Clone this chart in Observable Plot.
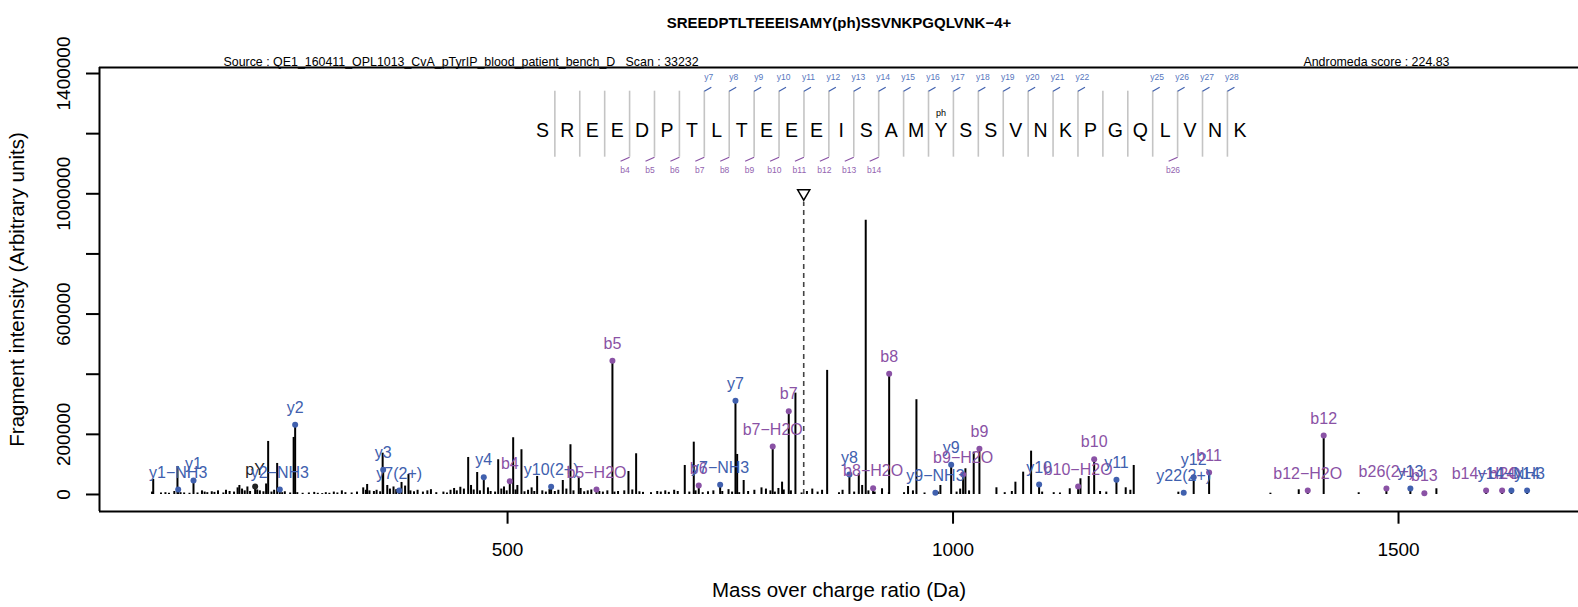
<!DOCTYPE html>
<html><head><meta charset="utf-8">
<script src="https://cdn.jsdelivr.net/npm/d3@7"></script>
<script src="https://cdn.jsdelivr.net/npm/@observablehq/plot@0.6"></script>
<style>body{margin:0;background:#fff;overflow:hidden;} svg{display:block;font-family:"Liberation Sans",Arial,Helvetica,sans-serif;}</style>
</head><body><div id="chart"></div>
<script>
// ---------- data ----------
const title = "SREEDPTLTEEEISAMY(ph)SSVNKPGQLVNK\u22124+";
const sourceText = "Source : QE1_160411_OPL1013_CvA_pTyrIP_blood_patient_bench_D\u00a0\u00a0\u00a0Scan : 33232";
const scoreText = "Andromeda score : 224.83";
const xTitle = "Mass over charge ratio (Da)";
const yTitle = "Fragment intensity (Arbitrary units)";
const sequence = "SREEDPTLTEEEISAMYSSVNKPGQLVNK".split("");
const ySites = [7,8,9,10,11,12,13,14,15,16,17,18,19,20,21,22,25,26,27,28];
const bSites = [4,5,6,7,8,9,10,11,12,13,14,26];
const phSite = 17;
const xTicks = [500, 1000, 1500];
const yTicks = [0, 200000, 400000, 600000, 800000, 1000000, 1200000, 1400000];
const yTickLabels = [0, 200000, 600000, 1000000, 1400000];

const ionLabels = ["y1\u2212NH3","y1","pY","y2\u2212NH3","y2","y3","y7(2+)","y4","b4","y10(2+)","b5\u2212H2O","b5","b6","y7\u2212NH3","y7","b7\u2212H2O","b7","y8","b8\u2212H2O","b8","y9\u2212NH3","y9","b9\u2212H2O","b9","y10","b10\u2212H2O","b10","y11","y22(2+)","y12","b11","b12\u2212H2O","b12","b26(2+)","y13","b13","b14\u2212H2O","b14","y14\u2212NH3","y14"];
const ionType = ["y","y","i","y","y","y","y","y","b","y","b","b","b","y","y","b","b","y","b","b","y","y","b","b","y","b","b","y","y","y","b","b","b","b","y","b","b","b","y","y"];
const ionMz = [130.3,147.5,216.7,244.4,261.6,360.4,378.4,473.3,502.5,548.9,599.8,617.7,714.6,738.6,755.8,797.6,815.6,883.7,910.3,928.3,980.2,997.9,1011.3,1029.6,1096.6,1140.4,1158.4,1183.4,1258.9,1270.1,1287.4,1398.1,1416.0,1486.4,1513.3,1529.0,1598.3,1616.3,1626.7,1644.3];
const ionIntensity = [16600,46600,26600,16600,232000,82200,13300,57600,44300,25600,16600,445000,30000,32300,311800,159700,277200,66600,21000,401700,5700,98800,66600,152100,33300,26600,117500,48900,5700,57600,73200,13300,196400,20000,20000,4300,13300,13300,13300,13300];

const peakMz = [102.3,129.5,231.3,241.4,259.9,342.4,359.8,388.8,455.8,465.9,489.5,506.3,515.6,533.2,562.0,570.6,579.9,635.7,644.3,698.9,709.0,757.7,765.0,808.1,823.1,858.7,894.2,902.0,920.3,949.5,958.9,985.8,1013.9,1023.2,1048.7,1070.0,1078.7,1087.6,1131.0,1143.0,1152.3,1193.8,1202.8,1252.9,1356.2,1388.0,1455.3,1542.5];
const peakIntensity = [49900,93200,176400,103200,189700,33300,137400,66600,123100,73200,115500,188700,148800,60000,46600,165400,57600,76500,135400,96500,174000,133100,46600,41000,337100,412700,68900,911900,19000,26600,315200,30000,85500,140800,22300,40900,74200,144100,19000,52200,59900,22300,96500,7700,4300,15600,5700,19000];

const noiseMz = [101,111,116,120,126,133,137,143,152,157,160,163,168,171,175,181,184,188,193,197,199,202,205,208,211,219,222,226,229,235,238,247,250,256,264,270,277,283,287,292,296,300,305,309,314,318,325,331,338,341,345,350,353,357,365,368,372,375,381,385,391,395,399,405,410,414,420,428,432,436,440,443,447,451,459,462,469,478,481,486,493,496,499,509,511,519,523,527,530,539,543,547,553,557,566,574,582,586,590,594,603,607,612,620,624,631,640,648,652,661,668,672,677,681,687,691,704,711,719,725,731,741,748,752,760,770,777,785,790,795,800,804,810,818,830,836,842,848,853,872,876,889,898,905,912,928,945,955,968,983,1004,1008,1018,1058,1066,1100,1113,1120,1165,1172,1199];
const noiseIntensity = [8000,5000,6000,4000,10000,6000,5000,4000,5000,12000,8000,6000,9000,7000,12000,5000,14000,10000,8000,22000,30000,18000,12000,25000,10000,15000,12000,9000,35000,8000,14000,6000,9000,5000,6000,4000,5000,7000,4000,3000,6000,4000,8000,5000,12000,6000,5000,8000,22000,14000,12000,10000,14000,9000,30000,18000,25000,16000,40000,28000,12000,9000,14000,8000,12000,16000,6000,8000,5000,14000,20000,12000,24000,18000,30000,15000,12000,22000,10000,8000,18000,25000,12000,15000,30000,9000,14000,22000,10000,12000,8000,16000,10000,14000,18000,12000,20000,9000,12000,15000,10000,8000,12000,8000,10000,12000,15000,9000,7000,6000,10000,8000,12000,7000,14000,10000,8000,12000,6000,9000,12000,10000,16000,8000,6000,10000,14000,22000,18000,12000,8000,20000,15000,12000,5000,10000,18000,8000,14000,6000,14000,8000,30000,12000,8000,6000,6000,12000,5000,8000,8000,18000,12000,6000,10000,8000,6000,5000,10000,8000,14000];

const precursorMz = 832.4;
const precursorMark = 996000;

// ---------- layout ----------
const W = 1578, H = 607;
const xDomain = [42, 1702], yDomain = [-56600, 1420000];
const pxX = (xDomain[1] - xDomain[0]) / (W - 99);      // Da per px
const pxY = (yDomain[1] - yDomain[0]) / (511 - 67);    // units per px
const yColor = "#4060ae", bColor = "#8a52a5", iColor = "#222";
const colorOf = t => t === "y" ? yColor : t === "b" ? bColor : iColor;

const ions = ionLabels.map((label, i) => ({label, type: ionType[i], mz: ionMz[i], intensity: ionIntensity[i]}));
const peaks = noiseMz.map((mz, i) => ({mz, intensity: noiseIntensity[i]}))
  .concat(peakMz.map((mz, i) => ({mz, intensity: peakIntensity[i]})))
  .concat(ions.map(d => ({mz: d.mz, intensity: d.intensity})));

// sequence annotation positions (data space)
const y0px = 511 - (0 - yDomain[0]) / pxY;
const atPx = py => (y0px - py) * pxY;
const step = 24.91 * pxX;
const seq0 = 42 + (541.9 - 99) * pxX;
const letters = sequence.map((aa, i) => ({aa, x: seq0 + i * step, i: i + 1}));
const sepX = k => seq0 + (k - 0.5) * step;
const seps = d3.range(1, sequence.length).map(k => ({k, x: sepX(k)}));
const sepTop = atPx(90.7), sepBot = atPx(156.7);
const yS = ySites.map(k => ({k, x: sepX(k)}));
const bS = bSites.map(k => ({k, x: sepX(k)}));

const triDown = {draw(ctx, size) {
  const r = Math.sqrt(size / Math.PI), w = r * 1.35, h = r * 1.15;
  ctx.moveTo(-w, -h); ctx.lineTo(w, -h); ctx.lineTo(0, h); ctx.closePath();
}};

const chart = Plot.plot({
  width: W, height: H,
  marginTop: 67, marginRight: 0, marginBottom: 96, marginLeft: 99,
  x: {domain: xDomain, axis: null},
  y: {domain: yDomain, axis: null},
  style: {fontFamily: '"Liberation Sans", Arial, Helvetica, sans-serif', background: "white", overflow: "visible"},
  marks: [
    // peaks
    Plot.ruleX(peaks, {x: "mz", y1: () => 0, y2: "intensity", stroke: "black", strokeWidth: 2}),
    // precursor
    Plot.ruleX([precursorMz], {x: d => d, y1: () => 0, y2: () => atPx(201.7), stroke: "#444", strokeWidth: 1.6, strokeDasharray: "5,4"}),
    Plot.dot([precursorMz], {x: d => d, y: () => precursorMark, symbol: triDown, r: 4.5, stroke: "black", fill: "none", strokeWidth: 1.5}),
    // ion dots and labels
    Plot.dot(ions, {x: "mz", y: "intensity", r: 3, fill: d => colorOf(d.type), stroke: "none"}),
    Plot.text(ions, {x: "mz", y: "intensity", text: "label", dy: -17, fontSize: 16, fill: d => colorOf(d.type)}),
    // sequence annotation
    Plot.ruleX(seps, {x: "x", y1: () => sepBot, y2: () => sepTop, stroke: "#c4c4c4", strokeWidth: 1.6}),
    Plot.text(letters, {x: "x", y: () => atPx(130.7), text: "aa", fontSize: 19.5, fill: "black"}),
    Plot.text([phSite], {x: d => seq0 + (d - 1) * step, y: () => atPx(112.7), text: () => "ph", fontSize: 9, fill: "black"}),
    Plot.link(yS, {x1: "x", y1: () => sepTop, x2: d => d.x + 7 * pxX, y2: () => sepTop + 4 * pxY, stroke: yColor, strokeWidth: 1.2}),
    Plot.text(yS, {x: d => d.x + 4.5 * pxX, y: () => atPx(76.7), text: d => "y" + d.k, fontSize: 8.5, fill: "#5676be"}),
    Plot.link(bS, {x1: "x", y1: () => sepBot, x2: d => d.x - 9 * pxX, y2: () => sepBot - 4 * pxY, stroke: bColor, strokeWidth: 1.2}),
    Plot.text(bS, {x: d => d.x - 4.6 * pxX, y: () => atPx(170), text: d => "b" + d.k, fontSize: 8.5, fill: "#9363b0"}),
    // box
    Plot.ruleY([yDomain[0], yDomain[1]], {stroke: "black", strokeWidth: 2}),
    Plot.ruleX([xDomain[0]], {stroke: "black", strokeWidth: 2}),
    // y ticks + labels
    Plot.ruleY(yTicks, {y: d => d, x1: () => xDomain[0] - 13 * pxX, x2: () => xDomain[0], stroke: "black", strokeWidth: 2}),
    Plot.text(yTickLabels, {y: d => d, x: () => xDomain[0] - 29.5 * pxX, text: d => String(d), rotate: -90, textAnchor: "middle", lineAnchor: "bottom", fontSize: 19, fill: "black"}),
    // x ticks + labels
    Plot.ruleX(xTicks, {x: d => d, y1: () => yDomain[0], y2: () => yDomain[0] - 12.7 * pxY, stroke: "black", strokeWidth: 2}),
    Plot.text(xTicks, {x: d => d, y: () => yDomain[0] - 38 * pxY, text: d => String(d), fontSize: 19, fill: "black"}),
    // titles
    Plot.text([title], {frameAnchor: "top", dy: -50, text: d => d, fontSize: 15, fontWeight: "bold", fill: "black"}),
    Plot.text([sourceText], {frameAnchor: "top-left", dx: 124, dy: -10, text: d => d, textAnchor: "start", fontSize: 12.4, fill: "black"}),
    Plot.text([scoreText], {frameAnchor: "top-right", dx: -129, dy: -10, text: d => d, textAnchor: "end", fontSize: 12.4, fill: "black"}),
    Plot.text([yTitle], {frameAnchor: "left", dx: -82, rotate: -90, textAnchor: "middle", text: d => d, fontSize: 20.5, fill: "black"}),
    Plot.text([xTitle], {frameAnchor: "bottom", dy: 85, textAnchor: "middle", text: d => d, fontSize: 20.5, fill: "black"})
  ]
});
document.getElementById("chart").appendChild(chart);
</script>
</body></html>
